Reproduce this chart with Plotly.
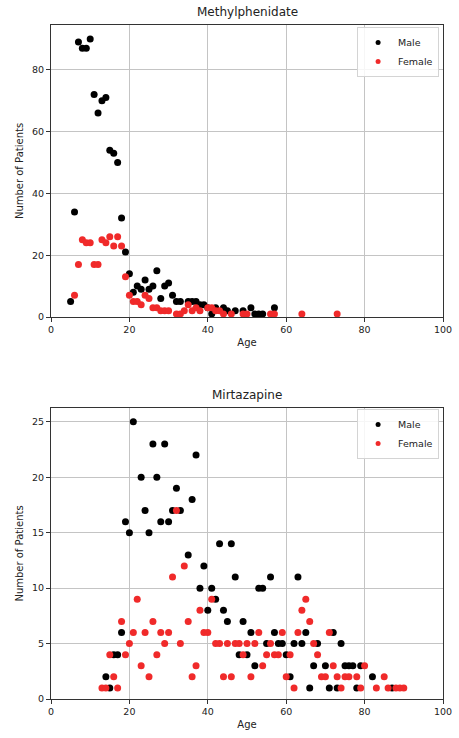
import plotly.graph_objects as go

# ---- Methylphenidate data ----
mph_male_age = [5, 6, 7, 8, 9, 10, 11, 12, 13, 14, 15, 16, 17, 18, 19, 20, 21, 22, 23, 24, 25, 26, 27, 28, 29,
                30, 31, 32, 33, 35, 36, 37, 38, 39, 40, 41, 42, 44, 45, 47, 49, 51, 52, 53, 54, 57]
mph_male_n = [5, 34, 89, 87, 87, 90, 72, 66, 70, 71, 54, 53, 50, 32, 21, 14, 8, 10, 9, 12, 9, 10, 15, 6, 10,
              11, 7, 5, 5, 5, 5, 5, 4, 4, 3, 1, 3, 3, 2, 2, 2, 3, 1, 1, 1, 3]
mph_female_age = [6, 7, 8, 9, 10, 11, 12, 13, 14, 15, 16, 17, 18, 19, 20, 21, 22, 23, 24, 25, 26, 27, 28, 29,
                  30, 32, 33, 34, 35, 36, 37, 38, 40, 41, 42, 43, 44, 46, 49, 50, 56, 57, 64, 73]
mph_female_n = [7, 17, 25, 24, 24, 17, 17, 25, 24, 26, 23, 26, 23, 13, 7, 5, 5, 4, 7, 6, 3, 3, 2, 2,
                2, 1, 1, 2, 4, 2, 3, 2, 3, 3, 2, 2, 1, 1, 1, 1, 1, 1, 1, 1]

# ---- Mirtazapine data ----
mir_male_age = [14, 15, 16, 17, 18, 19, 20, 21, 23, 24, 25, 26, 27, 28, 29, 30, 31, 32, 33, 35, 36, 37, 38, 39,
                40, 41, 42, 43, 44, 45, 46, 47, 48, 49, 50, 51, 52, 53, 54, 55, 56, 57, 58, 59, 60, 61, 62, 63,
                64, 65, 66, 67, 68, 70, 71, 72, 73, 74, 75, 76, 77, 78, 79, 82, 87]
mir_male_n = [2, 1, 4, 4, 6, 16, 15, 25, 20, 17, 15, 23, 20, 16, 23, 16, 17, 19, 17, 13, 18, 22, 10, 12,
              8, 10, 9, 14, 8, 7, 14, 11, 4, 7, 4, 6, 3, 10, 10, 5, 11, 6, 5, 5, 4, 2, 5, 11,
              5, 6, 1, 3, 5, 3, 1, 6, 1, 5, 3, 3, 3, 1, 3, 2, 1]
mir_female_age = [13, 14, 15, 16, 17, 18, 19, 20, 21, 22, 23, 24, 25, 26, 27, 28, 29, 30, 31, 32, 33, 34, 35,
                  36, 37, 38, 39, 40, 41, 42, 43, 44, 45, 46, 47, 48, 49, 50, 51, 52, 53, 54, 55, 56, 57, 58,
                  59, 60, 61, 62, 63, 64, 65, 66, 67, 68, 69, 70, 71, 72, 73, 74, 75, 76, 78, 79, 80, 83, 85,
                  86, 88, 89, 90]
mir_female_n = [1, 1, 4, 2, 1, 7, 4, 5, 6, 9, 3, 6, 2, 7, 4, 6, 5, 6, 11, 17, 5, 12, 7,
                2, 3, 8, 6, 6, 9, 5, 5, 2, 5, 2, 5, 5, 4, 5, 2, 5, 6, 3, 4, 5, 4, 4,
                6, 2, 4, 1, 6, 8, 9, 7, 5, 4, 2, 2, 6, 3, 2, 1, 2, 2, 2, 1, 3, 1, 2,
                1, 1, 1, 1]

x_ticks = [0, 20, 40, 60, 80, 100]
mph_y_ticks = [0, 20, 40, 60, 80]
mir_y_ticks = [0, 5, 10, 15, 20, 25]
series_names = ["Male", "Female"]

FONT = "DejaVu Sans"
TXT = "#222222"
RED = "#f02a2a"
COLORS = ["black", RED]

fig = go.Figure()

mk = dict(size=7, line=dict(width=0))
panels = [
    ("x", "y", "legend", [(mph_male_age, mph_male_n), (mph_female_age, mph_female_n)]),
    ("x2", "y2", "legend2", [(mir_male_age, mir_male_n), (mir_female_age, mir_female_n)]),
]
for xa, ya, lg, series in panels:
    for (ages, counts), name, col in zip(series, series_names, COLORS):
        fig.add_trace(go.Scatter(x=ages, y=counts, mode="markers", name=name, showlegend=False,
                                 marker=dict(color=col, **mk), xaxis=xa, yaxis=ya))
    # legend-only entries with smaller markers
    for name, col in zip(series_names, COLORS):
        fig.add_trace(go.Scatter(x=[None], y=[None], mode="markers", name=name, legend=lg,
                                 marker=dict(color=col, size=5, line=dict(width=0)), xaxis=xa, yaxis=ya))

H_PLOT = 674.0
top_dom = [1 - 292 / H_PLOT, 1.0]
bot_dom = [0.0, 291 / H_PLOT]

axis_common = dict(showline=True, mirror=True, linecolor="#333333", linewidth=1,
                   showgrid=True, gridcolor="#c4c4c4", gridwidth=1, zeroline=False,
                   ticks="outside", ticklen=4, tickcolor="#333333", automargin=False,
                   tickfont=dict(family=FONT, size=9.5, color=TXT))
title_font = dict(family=FONT, size=10, color=TXT)

legend_common = dict(bgcolor="rgba(255,255,255,0.85)", bordercolor="#d4d4d4", borderwidth=1,
                     font=dict(family=FONT, size=9.5, color=TXT), xanchor="right", yanchor="top",
                     itemsizing="trace", tracegroupgap=0, itemwidth=30)

fig.update_layout(
    width=459, height=738, autosize=False,
    margin=dict(l=51, r=16, t=25, b=39, autoexpand=False),
    paper_bgcolor="white", plot_bgcolor="white",
    showlegend=True,
    xaxis=dict(domain=[0, 1], anchor="y", range=[0, 100], tickvals=x_ticks,
               title=dict(text="Age", font=title_font, standoff=4), **axis_common),
    yaxis=dict(domain=top_dom, anchor="x", range=[0, 94.5], tickvals=mph_y_ticks,
               title=dict(text="Number of Patients", font=title_font, standoff=6), **axis_common),
    xaxis2=dict(domain=[0, 1], anchor="y2", range=[0, 100], tickvals=x_ticks,
                title=dict(text="Age", font=title_font, standoff=4), **axis_common),
    yaxis2=dict(domain=bot_dom, anchor="x2", range=[0, 26.25], tickvals=mir_y_ticks,
                title=dict(text="Number of Patients", font=title_font, standoff=6), **axis_common),
    legend=dict(x=0.99, y=1 - (27 - 25) / H_PLOT, **legend_common),
    legend2=dict(x=0.99, y=1 - (409 - 25) / H_PLOT, **legend_common),
    annotations=[
        dict(text="Methylphenidate", x=0.5, y=1, xref="paper", yref="paper", xanchor="center",
             yanchor="bottom", yshift=4, showarrow=False, font=dict(family=FONT, size=12, color=TXT)),
        dict(text="Mirtazapine", x=0.5, y=bot_dom[1], xref="paper", yref="paper", xanchor="center",
             yanchor="bottom", yshift=4, showarrow=False, font=dict(family=FONT, size=12, color=TXT)),
    ],
)

fig.write_html("out.html")
